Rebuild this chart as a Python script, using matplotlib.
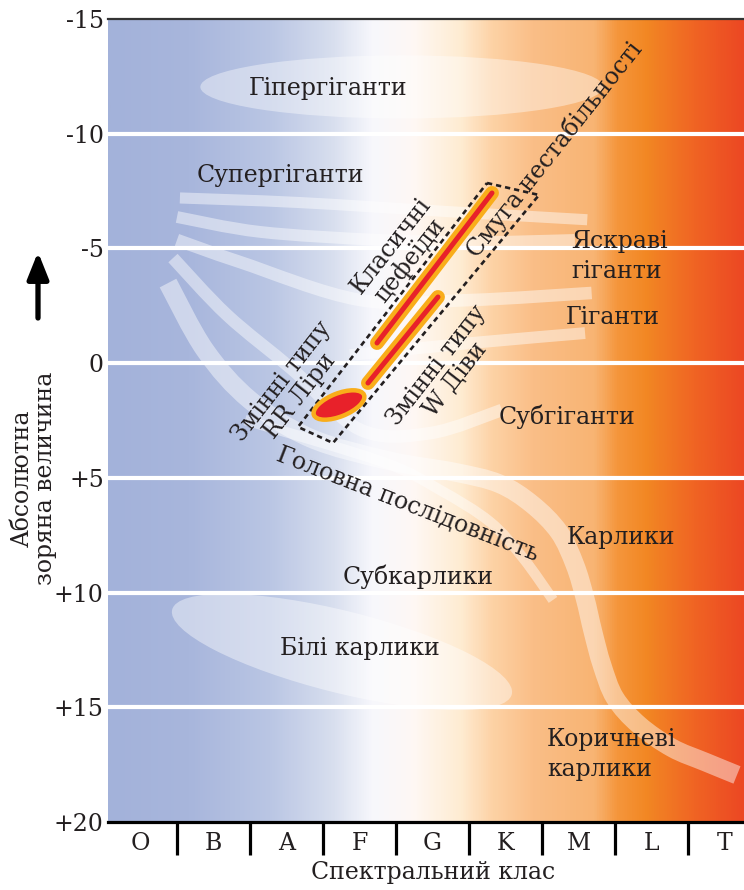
import numpy as np
import matplotlib
matplotlib.use("Agg")
import matplotlib.pyplot as plt
from matplotlib.path import Path
from matplotlib.patches import PathPatch, Ellipse, Polygon
from matplotlib.colors import LinearSegmentedColormap
from matplotlib.transforms import Affine2D

plt.rcParams['font.family'] = ['DejaVu Serif', 'DejaVu Sans']

# ---------------- data ----------------
classes = ['O', 'B', 'A', 'F', 'G', 'K', 'M', 'L', 'T']
class_centers = np.arange(len(classes)) + 0.5
class_bounds = np.arange(1, len(classes))
mag_ticks = [-15, -10, -5, 0, 5, 10, 15, 20]
mag_labels = ['-15', '-10', '-5', '0', '+5', '+10', '+15', '+20']

# background colour stops (spectral position -> colour)
bg_pos = [0.055, 1.16, 2.27, 3.11, 3.67, 4.22, 4.89, 5.33, 5.89, 6.73, 7.05, 7.45, 8.11, 8.767]
bg_col = ['#a3b2da', '#a8b6dc', '#bac6e4', '#d7deee', '#f7f7fc', '#fef8f5', '#ffecd2',
          '#fdd2a5', '#fabe87', '#f8b473', '#f5963c', '#f28723', '#f06423', '#ec4823']

# stellar sequences (spectral position, absolute magnitude)
supergiants_1 = [(1.04, -7.2), (2.68, -7.0), (4.74, -6.6), (6.62, -6.25)]
supergiants_2 = [(1.00, -6.37), (2.14, -5.72), (3.78, -5.37), (5.15, -5.28), (6.45, -5.37)]
bright_giants = [(1.00, -5.37), (1.86, -4.41), (3.51, -2.75), (5.01, -2.75), (6.68, -3.06)]
giants = [(3.37, -0.35), (5.04, -0.88), (6.59, -1.31)]
subgiants = [(0.945, -4.58), (1.685, -2.1), (2.59, 0.3), (3.51, 2.9), (4.47, 3.05), (5.45, 2.04)]
main_seq = [(0.877, -3.49), (1.384, -0.57), (2.0, 1.61), (2.822, 3.26), (3.90, 4.25),
            (4.80, 4.75), (5.411, 5.25), (5.863, 6.15), (6.233, 7.36), (6.452, 8.80),
            (6.589, 10.24), (6.699, 11.72), (6.822, 13.16), (7.0, 14.59), (7.329, 15.77),
            (7.781, 16.77), (8.233, 17.38), (8.671, 17.95)]
lower_seq = [(1.932, 2.48), (3.822, 4.31), (4.603, 5.53), (5.288, 6.92), (5.740, 8.49), (6.151, 10.32)]
band_widths = [8.0, 8.5, 9.0, 8.5, 9.0, 13.5, 7.5]

hypergiant_center, hypergiant_size = (4.08, -12.04), (5.52, 2.75)
whitedwarf_center, whitedwarf_size, whitedwarf_angle = (3.26, 12.59), (350, 82), 14

instability_strip = [(5.247, -7.852), (5.959, -7.329), (3.137, 3.48), (2.658, 2.78)]
cepheids = [(3.740, -0.878), (5.315, -7.416)]
w_virginis = [(3.616, 0.866), (4.575, -2.883)]
rr_lyrae_center, rr_lyrae_size, rr_lyrae_angle = (3.219, 1.824), (54, 23), -22

region_labels = ['Гіпергіганти', 'Супергіганти', 'Яскраві\nгіганти', 'Гіганти', 'Субгіганти',
                 'Карлики', 'Субкарлики', 'Білі карлики', 'Коричневі\nкарлики']
region_x = [3.068, 2.411, 6.397, 6.973, 6.342, 7.082, 4.301, 3.507, 6.068]
region_y = [-11.99, -8.20, -4.63, -1.97, 2.35, 7.58, 9.32, 12.42, 17.04]
region_ha = ['center', 'center', 'left', 'center', 'center', 'center', 'center', 'center', 'left']

strip_labels = ['Класичні\nцефеїди', 'Змінні типу\nRR Ліри', 'Змінні типу\nW Діви', 'Смуга нестабільності']
strip_x = [4.055, 2.562, 4.685, 6.17]
strip_y = [-4.80, 1.13, 0.39, -9.32]
strip_rot = [52, 52, 52, 51.6]

ms_label = 'Головна послідовність'
ms_label_pos = (4.16, 6.12)
ms_label_rot = -21.2

# ---------------- figure ----------------
W, H = 744, 890
fig = plt.figure(figsize=(W / 100, H / 100), dpi=100)
ax = fig.add_axes([108 / W, 1 - 822 / H, (W - 108) / W, (822 - 19) / H])
xmin, xmax = bg_pos[0], bg_pos[-1]
ax.set_xlim(xmin, xmax)
ax.set_ylim(20, -15)

# background gradient
norm_pos = [(p - xmin) / (xmax - xmin) for p in bg_pos]
cmap = LinearSegmentedColormap.from_list('hr', list(zip(norm_pos, bg_col)))
grad = np.linspace(0, 1, 800)[None, :]
ax.imshow(grad, cmap=cmap, extent=(xmin, xmax, 20, -15), aspect='auto', zorder=0,
          interpolation='bilinear')

# white magnitude lines
for m in mag_ticks[1:-1]:
    ax.axhline(m, color='white', lw=3.0, zorder=1.5)

band_col = (1, 1, 1, 0.45)


def smooth(pts):
    p = np.asarray(pts, float)
    verts = [p[0]]
    codes = [Path.MOVETO]
    n = len(p)
    for i in range(n - 1):
        p0 = p[i - 1] if i > 0 else p[i]
        p1, p2 = p[i], p[i + 1]
        p3 = p[i + 2] if i + 2 < n else p[i + 1]
        verts += [p1 + (p2 - p0) / 6, p2 - (p3 - p1) / 6, p2]
        codes += [Path.CURVE4] * 3
    return Path(verts, codes)


# hypergiant and white dwarf regions
ax.add_patch(Ellipse(hypergiant_center, *hypergiant_size, facecolor=(1, 1, 1, 0.4),
                     edgecolor='none', zorder=2))
sx, sy = 73.0, 22.943
wd = Ellipse((whitedwarf_center[0] * sx, whitedwarf_center[1] * sy), *whitedwarf_size,
             angle=whitedwarf_angle, facecolor=(1, 1, 1, 0.42), edgecolor='none', zorder=2,
             transform=Affine2D().scale(1 / sx, 1 / sy) + ax.transData)
ax.add_patch(wd)

for seq, w in zip([supergiants_1, supergiants_2, bright_giants, giants, subgiants,
                   main_seq, lower_seq], band_widths):
    ax.add_patch(PathPatch(smooth(seq), fill=False, edgecolor=band_col, lw=w,
                           capstyle='butt', joinstyle='round', zorder=2))

# instability strip
ax.add_patch(Polygon(instability_strip, closed=True, fill=False, edgecolor='#231f20',
                     lw=1.9, linestyle=(0, (2.0, 1.5)), joinstyle='round', zorder=4))
for seg in [cepheids, w_virginis]:
    xs, ys = zip(*seg)
    ax.plot(xs, ys, color='#f9ad1a', lw=10, solid_capstyle='round', zorder=4)
    ax.plot(xs, ys, color='#e8212a', lw=3.6, solid_capstyle='round', zorder=4.1)
rr = Ellipse((rr_lyrae_center[0] * sx, rr_lyrae_center[1] * sy), *rr_lyrae_size,
             angle=rr_lyrae_angle, facecolor='#e8212a', edgecolor='#f9ad1a', lw=3.2, zorder=4,
             transform=Affine2D().scale(1 / sx, 1 / sy) + ax.transData)
ax.add_patch(rr)

txt = dict(color='#231f20', fontsize=17, zorder=6)
for s, x, y, ha in zip(region_labels, region_x, region_y, region_ha):
    ax.text(x, y, s, ha=ha, va='center', multialignment=ha, linespacing=1.38, **txt)
for s, x, y, r in zip(strip_labels, strip_x, strip_y, strip_rot):
    ax.text(x, y, s, ha='center', va='center', rotation=r, rotation_mode='anchor',
            multialignment='center', linespacing=1.0, **txt)
ax.text(*ms_label_pos, ms_label, ha='center', va='center', rotation=ms_label_rot,
        rotation_mode='anchor', **txt)

# axes styling
for side in ['left', 'right']:
    ax.spines[side].set_visible(False)
ax.spines['top'].set_color('#333333')
ax.spines['top'].set_linewidth(1.6)
ax.spines['bottom'].set_color('black')
ax.spines['bottom'].set_linewidth(2.3)
ax.spines['bottom'].set_zorder(7)

ax.set_yticks(mag_ticks)
ax.set_yticklabels(mag_labels, fontsize=17, color='#231f20')
ax.tick_params(axis='y', length=0, pad=3)

ax.set_xticks(class_bounds)
ax.set_xticklabels([''] * len(class_bounds))
ax.tick_params(axis='x', which='major', length=24, width=2.3, direction='out', color='black')
ax.set_xticks(class_centers, minor=True)
ax.set_xticklabels(classes, minor=True, fontsize=17, color='#231f20')
ax.tick_params(axis='x', which='minor', length=0, pad=7)

fig.text(433 / W, 1 - 873 / H, 'Спектральний клас', ha='center', va='center',
         fontsize=17, color='#231f20')
fig.text(34 / W, 1 - 478 / H, 'Абсолютна\nзоряна величина', ha='center', va='center',
         rotation=90, multialignment='center', linespacing=1.05, fontsize=17, color='#231f20')
ax.annotate('', xy=(38, H - 252), xytext=(38, H - 318), xycoords='figure pixels',
            textcoords='figure pixels',
            arrowprops=dict(arrowstyle='-|>,head_length=0.8,head_width=0.32', lw=3.8,
                            color='black', shrinkA=0, shrinkB=0, mutation_scale=20))

fig.savefig('out.png', dpi=100)
